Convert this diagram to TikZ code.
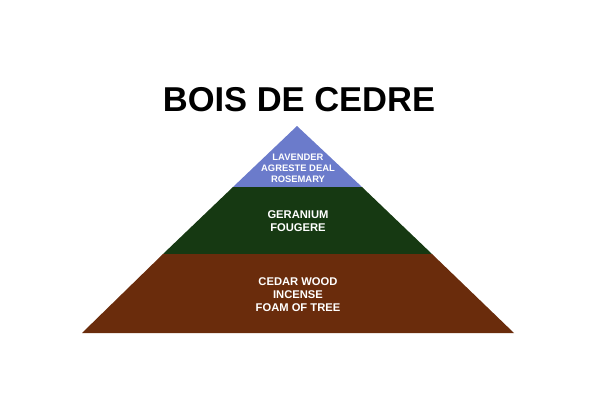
\documentclass[tikz,border=0pt]{standalone}
\usepackage{fontspec}
\setmainfont{Liberation Sans}
\usepackage{xcolor}
\usetikzlibrary{positioning}

\definecolor{topblue}{HTML}{6B7BCB}
\definecolor{midgreen}{HTML}{163912}
\definecolor{basebrown}{HTML}{6A2C0C}

\begin{document}
\begin{tikzpicture}[
  x=1pt, y=-1pt,
  every node/.style={font=\bfseries},
  tier/.style={draw=none},
  label/.style={text=white, align=center, font=\bfseries\fontsize{11.2}{13}\selectfont, inner sep=0pt}
]
\useasboundingbox (0,0) rectangle (600,420);

% Title
\node[font=\bfseries\fontsize{34.5}{38}\selectfont] (title) at (299,100) {BOIS DE CEDRE};

% Pyramid tiers, top to bottom
\fill[tier, topblue]   (297,126) -- (362,187) -- (233,187) -- cycle;
\fill[tier, midgreen]  (233,187) -- (362,187) -- (432,254) -- (163,254) -- cycle;
\fill[tier, basebrown] (163,254) -- (432,254) -- (514,333) -- (82,333) -- cycle;

% Tier labels
\node[label, font=\bfseries\fontsize{9.4}{11}\selectfont] (top) at (298,168) {LAVENDER\\AGRESTE DEAL\\ROSEMARY};
\node[label] (mid)  at (298,221) {GERANIUM\\FOUGERE};
\node[label] (base) at (298,295) {CEDAR WOOD\\INCENSE\\FOAM OF TREE};

\end{tikzpicture}
\end{document}
